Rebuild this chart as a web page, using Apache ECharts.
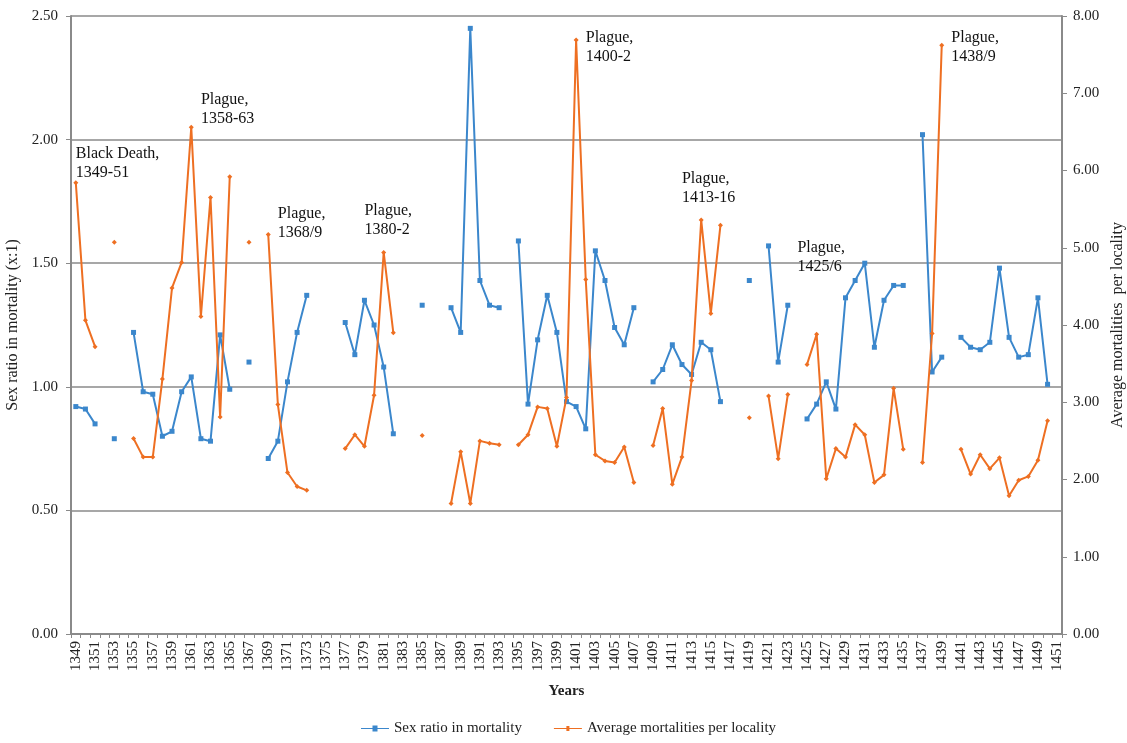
<!DOCTYPE html>
<html>
<head>
<meta charset="utf-8">
<script src="https://cdn.jsdelivr.net/npm/echarts@6/dist/echarts.min.js"></script>
<style>
html,body{margin:0;padding:0;background:#fff;overflow:hidden;}
#chart{width:1127px;height:743px;}
</style>
</head>
<body>
<div id="chart"></div>
<script>
// ---- data ----
const years = [];
for (let y = 1349; y <= 1451; y++) years.push(String(y));

const sexRatio = [
  0.92, 0.91, 0.85, null, 0.79, null, 1.22, 0.98, 0.97, 0.80,   // 1349-1358
  0.82, 0.98, 1.04, 0.79, 0.78, 1.21, 0.99, null, 1.10, null,   // 1359-1368
  0.71, 0.78, 1.02, 1.22, 1.37, null, null, null, 1.26, 1.13,   // 1369-1378
  1.35, 1.25, 1.08, 0.81, null, null, 1.33, null, null, 1.32,   // 1379-1388
  1.22, 2.45, 1.43, 1.33, 1.32, null, 1.59, 0.93, 1.19, 1.37,   // 1389-1398
  1.22, 0.94, 0.92, 0.83, 1.55, 1.43, 1.24, 1.17, 1.32, null,   // 1399-1408
  1.02, 1.07, 1.17, 1.09, 1.05, 1.18, 1.15, 0.94, null, null,   // 1409-1418
  1.43, null, 1.57, 1.10, 1.33, null, 0.87, 0.93, 1.02, 0.91,   // 1419-1428
  1.36, 1.43, 1.50, 1.16, 1.35, 1.41, 1.41, null, 2.02, 1.06,   // 1429-1438
  1.12, null, 1.20, 1.16, 1.15, 1.18, 1.48, 1.20, 1.12, 1.13,   // 1439-1448
  1.36, 1.01, null                                              // 1449-1451
];

const avgMort = [
  5.84, 4.06, 3.72, null, 5.07, null, 2.53, 2.29, 2.29, 3.30,   // 1349-1358
  4.48, 4.81, 6.56, 4.11, 5.65, 2.81, 5.92, null, 5.07, null,   // 1359-1368
  5.17, 2.97, 2.09, 1.91, 1.86, null, null, null, 2.40, 2.58,   // 1369-1378
  2.43, 3.09, 4.94, 3.90, null, null, 2.57, null, null, 1.69,   // 1379-1388
  2.36, 1.69, 2.50, 2.47, 2.45, null, 2.45, 2.58, 2.94, 2.92,   // 1389-1398
  2.43, 3.06, 7.69, 4.59, 2.32, 2.24, 2.22, 2.42, 1.96, null,   // 1399-1408
  2.44, 2.92, 1.94, 2.29, 3.28, 5.36, 4.15, 5.29, null, null,   // 1409-1418
  2.80, null, 3.08, 2.27, 3.10, null, 3.49, 3.88, 2.01, 2.40,   // 1419-1428
  2.29, 2.71, 2.58, 1.96, 2.06, 3.18, 2.39, null, 2.22, 3.89,   // 1429-1438
  7.62, null, 2.39, 2.07, 2.32, 2.14, 2.28, 1.79, 1.99, 2.04,   // 1439-1448
  2.25, 2.76, null                                              // 1449-1451
];

const leftTicks = [0, 0.5, 1.0, 1.5, 2.0, 2.5];
const rightTicks = [0, 1, 2, 3, 4, 5, 6, 7, 8];

// annotation labels: [year position (fractional), left-axis value at text top, text]
const annoYears  = [1349.1, 1362.2, 1369.9, 1378.9, 1402.35, 1412.15, 1423.5, 1439.7];
const annoValues = [1.98, 2.20, 1.74, 1.75, 2.45, 1.88, 1.60, 2.45];
const annoTexts  = ['Black Death,\n1349-51', 'Plague,\n1358-63', 'Plague,\n1368/9', 'Plague,\n1380-2',
                    'Plague,\n1400-2', 'Plague,\n1413-16', 'Plague,\n1425/6', 'Plague,\n1438/9'];

// ---- chart ----
const BLUE = '#3b87cc';
const ORANGE = '#ee6f22';
const FONT = '"Liberation Serif", "DejaVu Serif", serif';
const GRID = '#8a8a8a';

const chart = echarts.init(document.getElementById('chart'), null, {renderer: 'canvas', width: 1127, height: 743});

const option = {
  animation: false,
  backgroundColor: '#fff',
  textStyle: {fontFamily: FONT},
  grid: {left: 71, right: 65, top: 16, bottom: 109, containLabel: false, outerBoundsMode: 'none'},
  legend: {
    bottom: 2,
    left: 356,
    itemGap: 32,
    itemWidth: 28,
    itemHeight: 8,
    textStyle: {fontFamily: FONT, fontSize: 15, color: '#222'},
    data: [
      {name: 'Sex ratio in mortality', icon: 'path://M0,3.4H11.5V1H16.5V3.4H28V4.6H16.5V7H11.5V4.6H0Z'},
      {name: 'Average mortalities per locality', icon: 'path://M0,3.4H12.5V1.5H15.5V3.4H28V4.6H15.5V6.5H12.5V4.6H0Z'}
    ]
  },
  xAxis: {
    type: 'category',
    data: years,
    boundaryGap: true,
    name: 'Years',
    nameLocation: 'middle',
    nameGap: 50,
    nameTextStyle: {fontFamily: FONT, fontSize: 15, fontWeight: 'bold', color: '#222'},
    axisLine: {lineStyle: {color: GRID, width: 2}},
    axisTick: {show: true, interval: 0, length: 4, lineStyle: {color: GRID, width: 1}},
    axisLabel: {interval: 1, rotate: 90, fontFamily: FONT, fontSize: 15, color: '#222', margin: 7}
  },
  yAxis: [
    {
      type: 'value',
      min: leftTicks[0],
      max: leftTicks[leftTicks.length - 1],
      interval: 0.5,
      position: 'left',
      name: 'Sex ratio in mortality (x:1)',
      nameLocation: 'middle',
      nameRotate: 90,
      nameGap: 48,
      nameTextStyle: {fontFamily: FONT, fontSize: 16, color: '#222'},
      axisLine: {show: true, lineStyle: {color: GRID, width: 2}},
      axisTick: {show: true, length: 5, lineStyle: {color: GRID}},
      axisLabel: {formatter: v => v.toFixed(2), fontFamily: FONT, fontSize: 15, color: '#222', margin: 13},
      splitLine: {show: true, lineStyle: {color: GRID, width: 1.5}}
    },
    {
      type: 'value',
      min: rightTicks[0],
      max: rightTicks[rightTicks.length - 1],
      interval: 1,
      position: 'right',
      name: 'Average mortalities  per locality',
      nameLocation: 'middle',
      nameRotate: 90,
      nameGap: 47,
      nameTextStyle: {fontFamily: FONT, fontSize: 16, color: '#222'},
      axisLine: {show: true, lineStyle: {color: GRID, width: 2}},
      axisTick: {show: true, length: 5, lineStyle: {color: GRID}},
      axisLabel: {formatter: v => v.toFixed(2), fontFamily: FONT, fontSize: 15, color: '#222', margin: 11},
      splitLine: {show: false}
    }
  ],
  series: [
    {
      name: 'Sex ratio in mortality',
      type: 'line',
      yAxisIndex: 0,
      data: sexRatio,
      connectNulls: false,
      showAllSymbol: true,
      symbol: 'rect',
      symbolSize: 5,
      color: BLUE,
      lineStyle: {color: BLUE, width: 2},
      itemStyle: {color: BLUE},
      z: 3
    },
    {
      name: 'Average mortalities per locality',
      type: 'line',
      yAxisIndex: 1,
      data: avgMort,
      connectNulls: false,
      showAllSymbol: true,
      symbol: 'diamond',
      symbolSize: 5,
      color: ORANGE,
      lineStyle: {color: ORANGE, width: 2},
      itemStyle: {color: ORANGE},
      z: 4
    }
  ]
};

chart.setOption(option);

// place annotation texts at data coordinates
const graphics = annoTexts.map((t, i) => {
  const idx = annoYears[i] - 1349;
  const p = chart.convertToPixel({xAxisIndex: 0, yAxisIndex: 0}, [idx, annoValues[i]]);
  return {
    type: 'text',
    x: p[0],
    y: p[1],
    z: 10,
    style: {
      text: t,
      fill: '#111',
      font: '16px ' + FONT,
      lineHeight: 19,
      textAlign: 'left',
      textVerticalAlign: 'top'
    }
  };
});
chart.setOption({graphic: graphics});
</script>
</body>
</html>
